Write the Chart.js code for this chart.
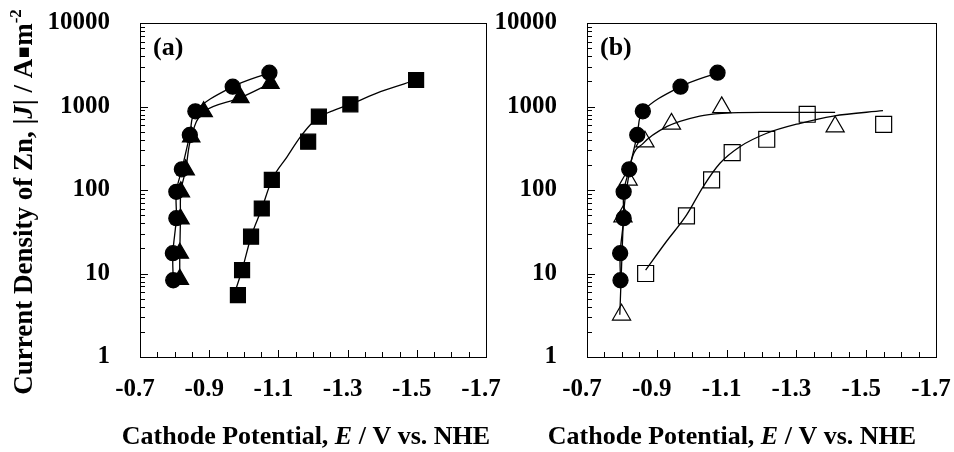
<!DOCTYPE html>
<html>
<head>
<meta charset="utf-8">
<script src="https://cdn.jsdelivr.net/npm/chart.js@4.4.0/dist/chart.umd.min.js"></script>
<style>
  html, body { margin: 0; padding: 0; background: #fff; }
  #wrap { position: relative; width: 954px; height: 452px; overflow: hidden; }
  #chartA { position: absolute; left: 0; top: 0; }
  #chartB { position: absolute; left: 460px; top: 0; }
</style>
</head>
<body>
<div id="wrap">
  <canvas id="chartA" width="520" height="452"></canvas>
  <canvas id="chartB" width="494" height="452"></canvas>
</div>
<script>
// --- Data (E in V vs. NHE, J in A/m2) ---
// circles, same electrolyte in both panels
const circleE = [-0.796, -0.795, -0.805, -0.805, -0.821, -0.844, -0.860, -0.968, -1.074];
const circleJ = [8.3, 17.5, 46, 95, 177, 456, 875, 1726, 2540];

// panel (a) filled triangles and squares
const triFilledE = [-0.815, -0.815, -0.817, -0.818, -0.832, -0.848, -0.884, -0.990, -1.077];
const triFilledJ = [8.5, 17.5, 45, 95, 174, 432, 866, 1275, 1897];
const sqFilledE = [-0.983, -0.995, -1.021, -1.052, -1.081, -1.186, -1.217, -1.308, -1.498];
const sqFilledJ = [5.5, 11, 27.6, 60, 132, 379, 755, 1062, 2077];
// fitted curve through the filled squares
const sqFilledFitE = [-0.976, -0.995, -1.021, -1.052, -1.081, -1.125, -1.164, -1.193, -1.217, -1.26, -1.308, -1.395, -1.498];
const sqFilledFitJ = [6.3, 11, 27.6, 60, 132, 250, 435, 610, 740, 900, 1062, 1504, 2077];

// panel (b) open triangles and squares
const triOpenE = [-0.799, -0.803, -0.818, -0.866, -0.942, -1.086, -1.411];
const triOpenJ = [3.2, 48, 132, 379, 620, 975, 573];
const triOpenFitE = [-0.794, -0.799, -0.805, -0.818, -0.826, -0.861, -0.928, -1.023, -1.087, -1.2, -1.411];
const triOpenFitJ = [3.2, 12, 50, 135, 218, 362, 573, 769, 829, 851, 851];
const sqOpenE = [-0.868, -0.985, -1.057, -1.116, -1.215, -1.331, -1.550];
const sqOpenJ = [10, 49, 132, 280, 405, 807, 610];
const sqOpenFitE = [-0.868, -0.927, -0.985, -1.033, -1.081, -1.138, -1.215, -1.311, -1.406, -1.548];
const sqOpenFitJ = [11, 24, 50, 110, 209, 330, 478, 630, 769, 891];

// axis ticks
const xTickLabels = [-0.7, -0.9, -1.1, -1.3, -1.5, -1.7];
const yTickLabels = [1, 10, 100, 1000, 10000];

const SERIF = "'Liberation Serif', 'Times New Roman', serif";
const FONT_SIZE = 25;

const pts = (xs, ys) => xs.map((x, i) => ({ x: x, y: ys[i] }));

function markers(xs, ys, style, radius, filled) {
    return {
        data: pts(xs, ys),
        showLine: false,
        pointStyle: style,
        pointRadius: radius,
        pointHoverRadius: radius,
        backgroundColor: filled ? '#000' : 'rgba(0,0,0,0)',
        borderColor: '#000',
        pointBorderWidth: 1.2,
        order: 1
    };
}

// measured series joined by a smooth line
function joined(xs, ys, style, radius) {
    return {
        data: pts(xs, ys),
        showLine: true,
        borderColor: '#000',
        borderWidth: 1.3,
        backgroundColor: '#000',
        tension: 0.35,
        pointStyle: style,
        pointRadius: radius,
        pointHoverRadius: radius,
        order: 1
    };
}

// fitted curve, no markers
function fit(xs, ys) {
    return {
        data: pts(xs, ys),
        showLine: true,
        borderColor: '#000',
        borderWidth: 1.3,
        cubicInterpolationMode: 'monotone',
        pointRadius: 0,
        pointHoverRadius: 0,
        order: 2
    };
}

// mixed-style text (italic letters, superscripts)
function drawRich(ctx, parts, x, y, size) {
    const fontFor = p => {
        if (p[1] === 'i') return `italic bold ${size}px ${SERIF}`;
        if (p[1] === 'sup') return `bold ${Math.round(size * 0.62)}px ${SERIF}`;
        if (p[1] === 'sym') return `${Math.round(size * 0.7)}px 'DejaVu Sans', sans-serif`;
        return `bold ${size}px ${SERIF}`;
    };
    let w = 0;
    parts.forEach(p => { ctx.font = fontFor(p); w += ctx.measureText(p[0]).width; });
    let cx = x - w / 2;
    ctx.textAlign = 'left';
    ctx.textBaseline = 'alphabetic';
    parts.forEach(p => {
        ctx.font = fontFor(p);
        let dy = 0;
        if (p[1] === 'sup') dy = -size * 0.42;
        if (p[1] === 'sym') dy = -size * 0.12;
        ctx.fillText(p[0], cx, y + dy);
        cx += ctx.measureText(p[0]).width;
    });
}

// box, inward ticks, panel label and axis titles
const framePlugin = {
    id: 'frame',
    afterDatasetsDraw(chart, args, opts) {
        const { ctx, chartArea: a, scales: { x, y } } = chart;
        ctx.save();
        ctx.strokeStyle = '#000';
        ctx.lineWidth = 1;
        ctx.strokeRect(Math.round(a.left) + 0.5, Math.round(a.top) + 0.5,
            Math.round(a.right - a.left), Math.round(a.bottom - a.top));

        ctx.beginPath();
        for (let d = 1; d <= 10000; d *= 10) {
            for (let m = 1; m <= 9; m++) {
                const v = d * m;
                if (v > 10000) break;
                const py = Math.round(y.getPixelForValue(v)) + 0.5;
                const len = m === 1 ? 8 : 5;
                ctx.moveTo(a.left, py);
                ctx.lineTo(a.left + len, py);
            }
        }
        for (let k = 0; k <= 20; k++) {
            const px = Math.round(x.getPixelForValue(-0.7 - 0.05 * k)) + 0.5;
            const len = k % 4 === 0 ? 7 : 5;
            ctx.moveTo(px, a.bottom);
            ctx.lineTo(px, a.bottom - len);
        }
        ctx.stroke();

        ctx.fillStyle = '#000';
        ctx.font = `bold ${FONT_SIZE + 1}px ${SERIF}`;
        ctx.textAlign = 'left';
        ctx.textBaseline = 'alphabetic';
        ctx.fillText(opts.label, a.left + 13, 55);

        drawRich(ctx, [['Cathode Potential, '], ['E', 'i'], [' / V vs. NHE']],
            opts.xTitleX, 444, FONT_SIZE + 1);

        if (opts.yTitle) {
            ctx.translate(32, 202);
            ctx.rotate(-Math.PI / 2);
            drawRich(ctx, [['Current Density of Zn, |'], ['J', 'i'], ['| / A'], ['\u25AA', 'sym'], ['m'], ['-2', 'sup']],
                0, 0, FONT_SIZE + 2);
        }
        ctx.restore();
    }
};

function makePanel(canvasId, datasets, cfg) {
    const canvas = document.getElementById(canvasId);
    return new Chart(canvas, {
        type: 'scatter',
        data: { datasets: datasets },
        plugins: [framePlugin],
        options: {
            responsive: false,
            animation: false,
            events: [],
            layout: { padding: { left: 0, right: canvas.width - cfg.plotRight, top: 23, bottom: 0 } },
            plugins: {
                legend: { display: false },
                tooltip: { enabled: false },
                frame: { label: cfg.label, xTitleX: cfg.xTitleX, yTitle: cfg.yTitle }
            },
            scales: {
                x: {
                    type: 'linear',
                    min: -1.7,
                    max: -0.7,
                    reverse: true,
                    afterBuildTicks: s => { s.ticks = xTickLabels.map(v => ({ value: v })); },
                    afterFit: s => { s.height = 95; s.paddingLeft = 0; s.paddingRight = 0; },
                    ticks: {
                        callback: v => v.toFixed(1),
                        color: '#000',
                        font: { family: SERIF, size: FONT_SIZE, weight: 'bold' },
                        padding: 18,
                        labelOffset: -5,
                        maxRotation: 0,
                        autoSkip: false
                    },
                    grid: { display: false, drawTicks: false },
                    border: { display: false }
                },
                y: {
                    type: 'logarithmic',
                    min: 1,
                    max: 10000,
                    afterBuildTicks: s => { s.ticks = yTickLabels.map(v => ({ value: v })); },
                    afterFit: s => { s.width = cfg.plotLeft; s.paddingTop = 0; s.paddingBottom = 0; },
                    ticks: {
                        callback: v => String(v),
                        color: '#000',
                        font: { family: SERIF, size: FONT_SIZE, weight: 'bold' },
                        padding: 30,
                        autoSkip: false
                    },
                    grid: { display: false, drawTicks: false },
                    border: { display: false }
                }
            }
        }
    });
}

// --- Panel (a) ---
makePanel('chartA', [
    joined(circleE, circleJ, 'circle', 7.5),
    joined(triFilledE, triFilledJ, 'triangle', 10),
    markers(sqFilledE, sqFilledJ, 'rect', 10.6, true),
    fit(sqFilledFitE, sqFilledFitJ)
], { plotLeft: 140, plotRight: 486, label: '(a)', xTitleX: 306, yTitle: true });

// --- Panel (b) ---
makePanel('chartB', [
    joined(circleE, circleJ, 'circle', 7.5),
    markers(triOpenE, triOpenJ, 'triangle', 10.5, false),
    markers(sqOpenE, sqOpenJ, 'rect', 11.3, false),
    fit(triOpenFitE, triOpenFitJ),
    fit(sqOpenFitE, sqOpenFitJ)
], { plotLeft: 127, plotRight: 476, label: '(b)', xTitleX: 272, yTitle: false });
</script>
</body>
</html>
